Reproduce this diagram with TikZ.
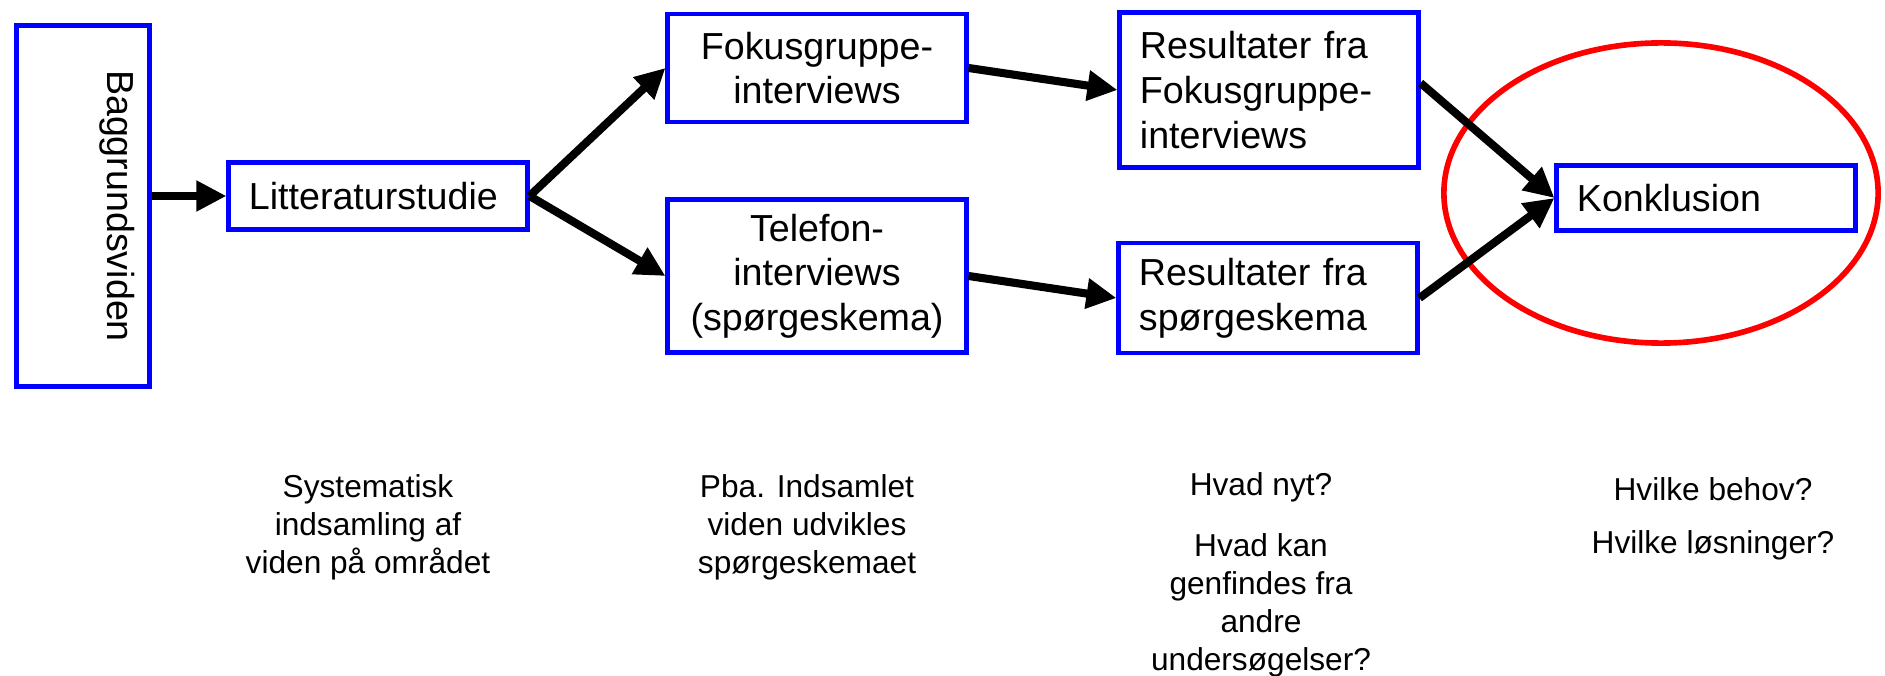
\documentclass[tikz,border=0pt]{standalone}
\usepackage{fontspec}
\setmainfont{Liberation Sans}
\usetikzlibrary{arrows.meta,shapes.geometric}

\begin{document}
\begin{tikzpicture}[x=0.01cm,y=-0.01cm,>={Triangle[length=3mm,width=2.9mm]},
                    font=\fontsize{10.7}{12.7}\selectfont]
  \tikzstyle{box}=[rectangle,draw=blue,line width=1.4pt,fill=white,text width=2.58cm,inner xsep=0.2cm,align=left]
  \tikzstyle{cbox}=[box,align=center]
  \tikzstyle{note}=[align=center,font=\fontsize{9}{10.8}\selectfont]
  \tikzstyle{flow}=[->,line width=2.3pt]

  \useasboundingbox (0,0) rectangle (1885,676);

  \node[draw=blue,line width=1.4pt,rotate=-90,minimum width=3.6cm,inner ysep=0pt,
        text height=0.42cm,text depth=0.91cm] (bag) at (83,206) {Baggrundsviden};
  \node[box,minimum height=0.67cm] (lit)  at (378,196)  {Litteraturstudie};
  \node[cbox,minimum height=1.08cm] (fok) at (817,68)   {Fokusgruppe-\\interviews};
  \node[cbox,minimum height=1.53cm] (tel) at (817,276)  {Telefon-\\interviews\\(spørgeskema)};
  \node[box,minimum height=1.54cm] (rf)   at (1269,90)  {Resultater fra\\Fokusgruppe-\\interviews};
  \node[box,minimum height=1.10cm] (rs)   at (1268,298) {Resultater fra\\spørgeskema};
  \node[draw=red,line width=1.6pt,ellipse,minimum width=4.34cm,minimum height=3cm] (ring) at (1661,193) {};
  \node[box,minimum height=0.65cm] (kon)  at (1706,198) {Konklusion};

  % forklaringer
  \node[note] (sys)   at (368,527)  {Systematisk\\indsamling af\\viden på området};
  \node[note] (pba)   at (807,527)  {Pba. Indsamlet\\viden udvikles\\spørgeskemaet};
  \node[note] (nyt)   at (1261,487) {Hvad nyt?};
  \node[note] (kan)   at (1261,605) {Hvad kan\\genfindes fra\\andre\\undersøgelser?};
  \node[note] (behov) at (1713,489) {Hvilke behov?};
  \node[note] (loes)  at (1713,545) {Hvilke løsninger?};

  \path[flow]
  (bag.north |- lit.west) edge (lit.west)
  (lit.east) edge (fok.west)
  (lit.east) edge (tel.west)
  (fok.east) edge (rf.west)
  (tel.east) edge (rs.west)
  ([yshift=0.07cm]rf.east) edge (kon.west)
  (rs.east) edge (kon.west)
  ;

\end{tikzpicture}
\end{document}
